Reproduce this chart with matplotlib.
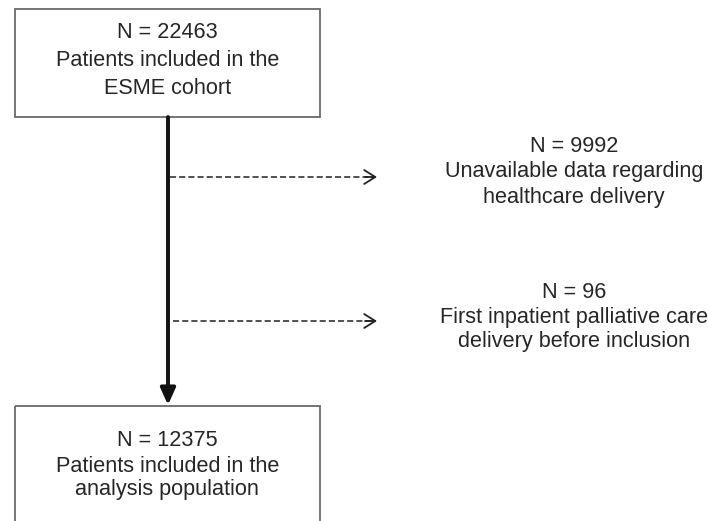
import matplotlib
matplotlib.use("Agg")
import matplotlib.pyplot as plt
from matplotlib.patches import Rectangle

# ---- data ----
box_counts = [22463, 12375]
box_labels = [["Patients included in the", "ESME cohort"],
              ["Patients included in the", "analysis population"]]
excl_counts = [9992, 96]
excl_labels = [["Unavailable data regarding", "healthcare delivery"],
               ["First inpatient palliative care", "delivery before inclusion"]]

plt.rcParams['font.family'] = ['Liberation Sans', 'DejaVu Sans']

W, H = 708, 521
fig = plt.figure(figsize=(W / 100, H / 100), dpi=100)
ax = fig.add_axes([0, 0, 1, 1])
ax.set_xlim(0, W)
ax.set_ylim(H, 0)
ax.axis('off')

txt_color = '#262626'
fs = 15.6
box_x0, box_x1 = 14.5, 320
box_tops = [9, 406]
box_bottoms = [117, 540]
box_text_y = [[33, 61, 88], [441, 466, 490]]
cx = (box_x0 + box_x1) / 2
line_x = 168

for i in range(2):
    ax.add_patch(Rectangle((box_x0, box_tops[i]), box_x1 - box_x0,
                           box_bottoms[i] - box_tops[i], fill=False,
                           edgecolor='#6a6a6a', lw=1.3, clip_on=True))
    lines = [f"N = {box_counts[i]}"] + box_labels[i]
    for ln, y in zip(lines, box_text_y[i]):
        ax.text(cx, y, ln, ha='center', va='center', fontsize=fs, color=txt_color)

# main vertical arrow
ax.annotate('', xy=(line_x, box_tops[1] - 1), xytext=(line_x, box_bottoms[0]),
            arrowprops=dict(arrowstyle='-|>,head_length=1.0,head_width=0.45',
                            lw=2.8, color='#111111', shrinkA=0, shrinkB=0))

# exclusion arrows
arrow_y = [177, 321]
arrow_x0 = [170, 173]
arrow_x1 = 377
excl_text_y = [[147, 172, 197], [292, 317, 342]]
excl_cx = 574
for i in range(2):
    ax.plot([arrow_x0[i], arrow_x1 - 2], [arrow_y[i], arrow_y[i]],
            color='#222222', lw=1.1, linestyle=(0, (4, 2)))
    ax.annotate('', xy=(arrow_x1, arrow_y[i]), xytext=(arrow_x1 - 12, arrow_y[i]),
                arrowprops=dict(arrowstyle='->,head_length=0.8,head_width=0.5',
                                lw=1.3, color='#222222', shrinkA=0, shrinkB=0))
    lines = [f"N = {excl_counts[i]}"] + excl_labels[i]
    for ln, y in zip(lines, excl_text_y[i]):
        ax.text(excl_cx, y, ln, ha='center', va='center', fontsize=fs, color=txt_color)

fig.savefig('out.png', dpi=100, facecolor='white')
